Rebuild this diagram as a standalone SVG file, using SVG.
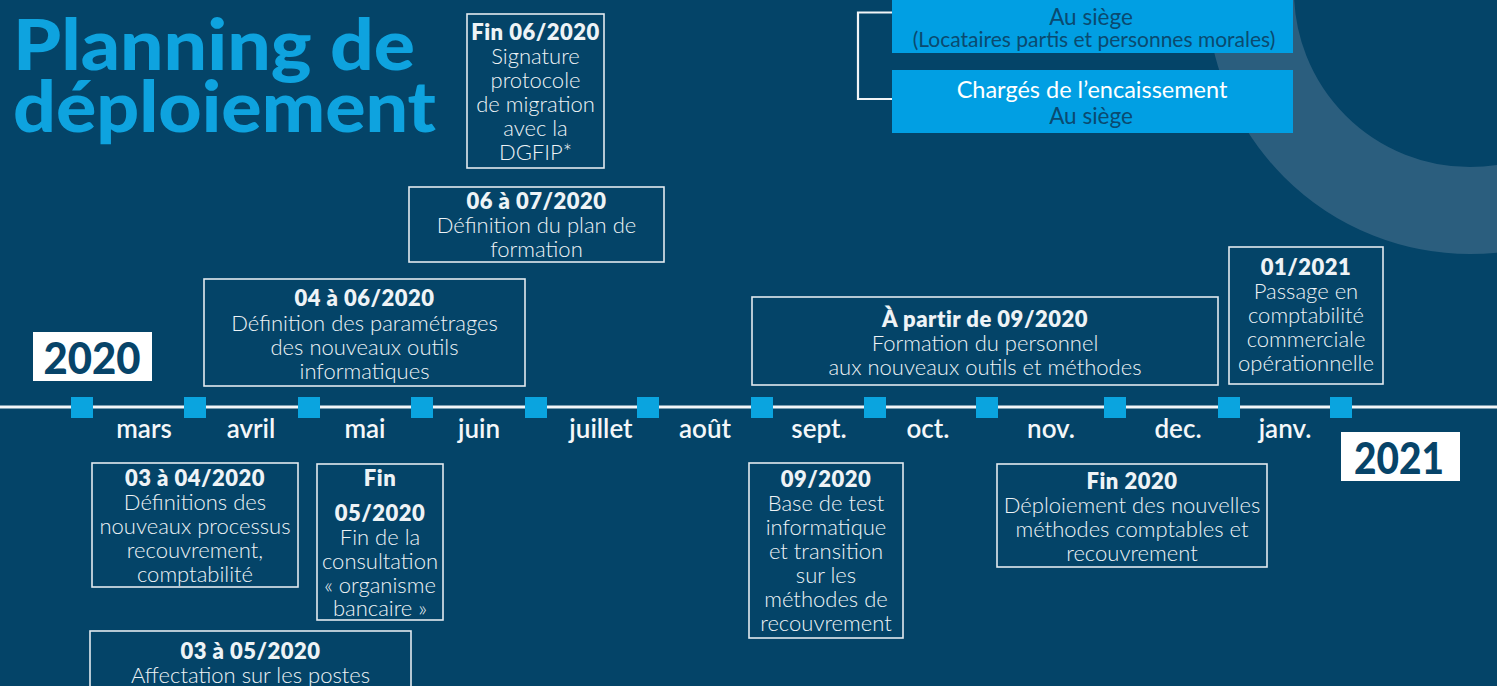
<svg xmlns="http://www.w3.org/2000/svg" width="1497" height="686" viewBox="0 0 1497 686">
<style>
.bg{fill:#044468}
.ring{fill:none;stroke:#2b5e7e;stroke-width:87}
.title{font-family:Lato,"Noto Sans",sans-serif;font-weight:900;font-size:70px;fill:#0ea3df}
.ev rect{fill:none;stroke:#e3eaef;stroke-width:1.6}
.ev text{font-family:Lato,"Noto Sans",sans-serif;fill:#eef3f6;text-anchor:middle}
.h{font-weight:800;font-size:22px;letter-spacing:0.5px;fill:#ffffff}
.b{font-weight:300;font-size:22px}
.month{font-family:Lato,"Noto Sans",sans-serif;font-weight:600;font-size:26px;fill:#f4f7f9;text-anchor:middle}
.tick{fill:#0aa4df}
.year rect{fill:#ffffff}
.year text{font-family:Lato,"Noto Sans",sans-serif;font-weight:900;font-size:44px;fill:#074469;text-anchor:middle}
.blue rect{fill:#019fe3}
.blue text{font-family:Lato,"Noto Sans",sans-serif;text-anchor:middle}
.dk{fill:#0a4a70;font-weight:400;font-size:22.5px}
.sm{font-size:21px}
.wt{fill:#ffffff;font-weight:400;font-size:23.5px}
.conn{stroke:#f2f5f7;fill:none}
</style>
<rect class="bg" x="0" y="0" width="1497" height="686"/>
<circle class="ring" cx="1470" cy="-9" r="219.5"/>

<g id="title">
<text class="title" x="13" y="70" textLength="402" lengthAdjust="spacingAndGlyphs">Planning de</text>
<text class="title" x="13" y="132" textLength="423" lengthAdjust="spacingAndGlyphs">déploiement</text>
</g>

<g id="connectors">
<line class="conn" x1="0" y1="407" x2="1497" y2="407" stroke-width="3"/>
<polyline class="conn" points="892,12.5 858,12.5 858,99 892,99" stroke-width="2.2"/>
</g>

<g id="ticks">
<rect class="tick" x="71" y="397" width="22" height="21"/>
<rect class="tick" x="184" y="397" width="22" height="21"/>
<rect class="tick" x="298" y="397" width="22" height="21"/>
<rect class="tick" x="411" y="397" width="22" height="21"/>
<rect class="tick" x="525" y="397" width="22" height="21"/>
<rect class="tick" x="637" y="397" width="22" height="21"/>
<rect class="tick" x="751" y="397" width="22" height="21"/>
<rect class="tick" x="864" y="397" width="22" height="21"/>
<rect class="tick" x="976" y="397" width="22" height="21"/>
<rect class="tick" x="1104" y="397" width="22" height="21"/>
<rect class="tick" x="1218" y="397" width="22" height="21"/>
<rect class="tick" x="1330" y="397" width="22" height="21"/>
</g>

<g id="months">
<text class="month" x="144" y="438">mars</text>
<text class="month" x="251" y="438">avril</text>
<text class="month" x="365" y="438">mai</text>
<text class="month" x="479" y="438">juin</text>
<text class="month" x="601" y="438">juillet</text>
<text class="month" x="705" y="438">août</text>
<text class="month" x="819" y="438">sept.</text>
<text class="month" x="928" y="438">oct.</text>
<text class="month" x="1051" y="438">nov.</text>
<text class="month" x="1178" y="438">dec.</text>
<text class="month" x="1285" y="438">janv.</text>
</g>

<g id="year2020" class="year">
<rect x="33" y="332" width="119" height="49"/>
<text x="92" y="374" textLength="97" lengthAdjust="spacingAndGlyphs">2020</text>
</g>
<g id="year2021" class="year">
<rect x="1341" y="432" width="119" height="49"/>
<text x="1399" y="474" textLength="90" lengthAdjust="spacingAndGlyphs">2021</text>
</g>

<g id="ev-fin0620" class="ev">
<rect x="467" y="14" width="137" height="154"/>
<text class="h" x="535.5" y="40">Fin 06/2020</text>
<text class="b" x="535.5" y="64">Signature</text>
<text class="b" x="535.5" y="88">protocole</text>
<text class="b" x="535.5" y="112">de migration</text>
<text class="b" x="535.5" y="136">avec la</text>
<text class="b" x="535.5" y="160">DGFIP*</text>
</g>

<g id="ev-0607" class="ev">
<rect x="409" y="187" width="255" height="75"/>
<text class="h" x="536.5" y="209">06 à 07/2020</text>
<text class="b" x="536.5" y="233">Définition du plan de</text>
<text class="b" x="536.5" y="257">formation</text>
</g>

<g id="ev-0406" class="ev">
<rect x="204" y="279" width="321" height="107"/>
<text class="h" x="364.5" y="306">04 à 06/2020</text>
<text class="b" x="364.5" y="331">Définition des paramétrages</text>
<text class="b" x="364.5" y="355">des nouveaux outils</text>
<text class="b" x="364.5" y="379">informatiques</text>
</g>

<g id="ev-0304" class="ev">
<rect x="92" y="463" width="206" height="124"/>
<text class="h" x="195" y="486">03 à 04/2020</text>
<text class="b" x="195" y="510">Définitions des</text>
<text class="b" x="195" y="534">nouveaux processus</text>
<text class="b" x="195" y="558">recouvrement,</text>
<text class="b" x="195" y="582">comptabilité</text>
</g>

<g id="ev-fin0520" class="ev">
<rect x="317" y="464" width="126" height="156"/>
<text class="h" x="380" y="486">Fin</text>
<text class="h" x="380" y="521">05/2020</text>
<text class="b" x="380" y="545">Fin de la</text>
<text class="b" x="380" y="569">consultation</text>
<text class="b" x="380" y="593">« organisme</text>
<text class="b" x="380" y="616">bancaire »</text>
</g>

<g id="ev-0305" class="ev">
<rect x="90" y="631" width="321" height="80"/>
<text class="h" x="250.5" y="659">03 à 05/2020</text>
<text class="b" x="250.5" y="683">Affectation sur les postes</text>
</g>

<g id="ev-0920-formation" class="ev">
<rect x="752" y="297" width="466" height="88"/>
<text class="h" x="985" y="327">À partir de 09/2020</text>
<text class="b" x="985" y="351">Formation du personnel</text>
<text class="b" x="985" y="375">aux nouveaux outils et méthodes</text>
</g>

<g id="ev-0121" class="ev">
<rect x="1229" y="247" width="154" height="137"/>
<text class="h" x="1306" y="275">01/2021</text>
<text class="b" x="1306" y="299">Passage en</text>
<text class="b" x="1306" y="323">comptabilité</text>
<text class="b" x="1306" y="347">commerciale</text>
<text class="b" x="1306" y="371">opérationnelle</text>
</g>

<g id="ev-0920-test" class="ev">
<rect x="749" y="463" width="154" height="175"/>
<text class="h" x="826" y="487">09/2020</text>
<text class="b" x="826" y="511">Base de test</text>
<text class="b" x="826" y="535">informatique</text>
<text class="b" x="826" y="559">et transition</text>
<text class="b" x="826" y="583">sur les</text>
<text class="b" x="826" y="607">méthodes de</text>
<text class="b" x="826" y="631">recouvrement</text>
</g>

<g id="ev-fin2020" class="ev">
<rect x="997" y="464" width="270" height="103"/>
<text class="h" x="1132" y="489">Fin 2020</text>
<text class="b" x="1132" y="513">Déploiement des nouvelles</text>
<text class="b" x="1132" y="537">méthodes comptables et</text>
<text class="b" x="1132" y="561">recouvrement</text>
</g>

<g id="role-recouvrement" class="blue">
<rect x="892" y="-10" width="401" height="63"/>
<text class="dk" x="1091" y="25">Au siège</text>
<text class="dk sm" x="1094" y="47">(Locataires partis et personnes morales)</text>
</g>

<g id="role-encaissement" class="blue">
<rect x="892" y="70" width="401" height="63"/>
<text class="wt" x="1092" y="98">Chargés de l’encaissement</text>
<text class="dk" x="1091" y="124">Au siège</text>
</g>
</svg>
